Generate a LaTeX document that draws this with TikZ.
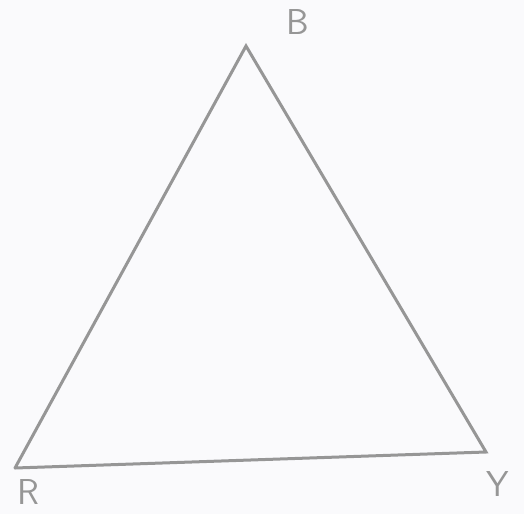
\documentclass[tikz,border=0pt]{standalone}
\usepackage{tikz}
\usetikzlibrary{positioning, calc}
\definecolor{pencil}{RGB}{150,150,150}
\definecolor{paper}{RGB}{250,250,252}

\begin{document}
\begin{tikzpicture}[x=1pt, y=-1pt,
  side/.style={pencil, line width=3pt, line cap=round},
  vlabel/.style={pencil, font=\fontsize{36}{36}\selectfont\sffamily}]
  \fill[paper] (0,0) rectangle (524,514);
  \useasboundingbox (0,0) rectangle (524,514);
  % corners
  \coordinate (top) at (246,46);
  \coordinate (left) at (15,468);
  \coordinate (right) at (486,452);
  % sides
  \draw[side] (left) -- (top) -- (right) -- (left);
  % labels
  \node[vlabel] (labB) at (298,22) {B};
  \node[vlabel] (labR) at (28,492) {R};
  \node[vlabel] (labY) at (498,484) {Y};
\end{tikzpicture}
\end{document}
